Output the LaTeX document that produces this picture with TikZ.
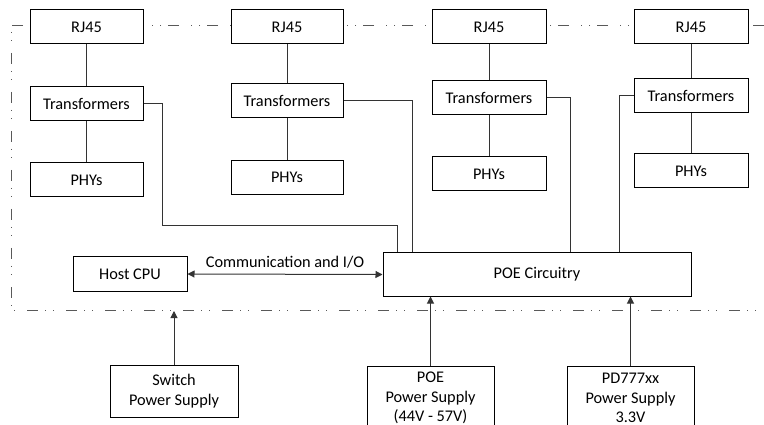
\documentclass[tikz,border=0pt]{standalone}
\usepackage{fontspec}
\setmainfont{Carlito}
\usetikzlibrary{arrows.meta}
\begin{document}
\begin{tikzpicture}[x=1pt,y=-1pt,
  every node/.style={font=\fontsize{16.3}{19.7}\selectfont},
  box/.style={draw=black,line width=1pt,fill=white,inner sep=0pt,minimum height=34pt,align=center},
  colbox/.style={box,minimum width=113pt},
  wire/.style={draw=black!80,line width=1pt},
  frame/.style={draw=black!65,line width=1pt,dash pattern=on 11pt off 7pt on 1.2pt off 7pt on 1.2pt off 11.6pt},
  arr/.style={wire,-{Triangle[length=7pt,width=7pt]}},
  darr/.style={wire,{Triangle[length=7pt,width=7pt]}-{Triangle[length=7pt,width=7pt]}}
]
\useasboundingbox (0,0) rectangle (764,425);
\draw[frame] (764,26) -- (11,26) -- (11,310) -- (764,310);
% column 1
\node[colbox] (r1) at (86.5,27) {RJ45};
\node[colbox] (t1) at (86.5,104) {Transformers};
\node[colbox] (p1) at (86.5,180) {PHYs};
% column 2
\node[colbox,minimum width=112pt] (r2) at (287,27) {RJ45};
\node[colbox,minimum width=112pt] (t2) at (287,101) {Transformers};
\node[colbox,minimum width=112pt] (p2) at (287,177.5) {PHYs};
% column 3
\node[colbox,minimum width=114pt] (r3) at (489,27) {RJ45};
\node[colbox,minimum width=114pt] (t3) at (489,98) {Transformers};
\node[colbox,minimum width=114pt] (p3) at (489,174) {PHYs};
% column 4
\node[colbox,minimum width=114pt] (r4) at (691,27) {RJ45};
\node[colbox,minimum width=114pt] (t4) at (691,96) {Transformers};
\node[colbox,minimum width=114pt] (p4) at (691,171) {PHYs};
% central
\node[box,minimum width=308pt,minimum height=43pt] (poe) at (537,274.5) {POE Circuitry};
\node[box,minimum width=114pt] (cpu) at (130,274) {Host CPU};
% supplies
\node[box,minimum width=128pt,minimum height=52pt] (sw) at (174,391) {Switch\\Power Supply};
\node[box,minimum width=127pt,minimum height=64pt] (pps) at (430.5,398) {POE\\Power Supply\\(44V - 57V)};
\node[box,minimum width=127pt,minimum height=64pt] (pd) at (630.5,398) {PD777xx\\Power Supply\\3.3V};
\coordinate (swtip) at (174,311);
% column wires
\foreach \i in {1,2,3,4}{
  \draw[wire] (r\i) -- (t\i);
  \draw[wire] (t\i) -- (p\i);
}
\draw[wire] (t1.east) -| (162,226) -| ([xshift=15pt]poe.north west);
\draw[wire] (t2.east) -| ([xshift=30pt]poe.north west);
\draw[wire] (t3.east) -| ([xshift=188pt]poe.north west);
\draw[wire] (t4.west) -| ([xshift=237pt]poe.north west);
% arrows
\draw[darr] (cpu.east) -- node[above=2pt] {Communication and I/O} (poe.west);
\draw[arr] (sw.north) -- (swtip);
\draw[arr] (pps.north) -- (pps.north |- poe.south);
\draw[arr] (pd.north) -- (pd.north |- poe.south);
\end{tikzpicture}
\end{document}
